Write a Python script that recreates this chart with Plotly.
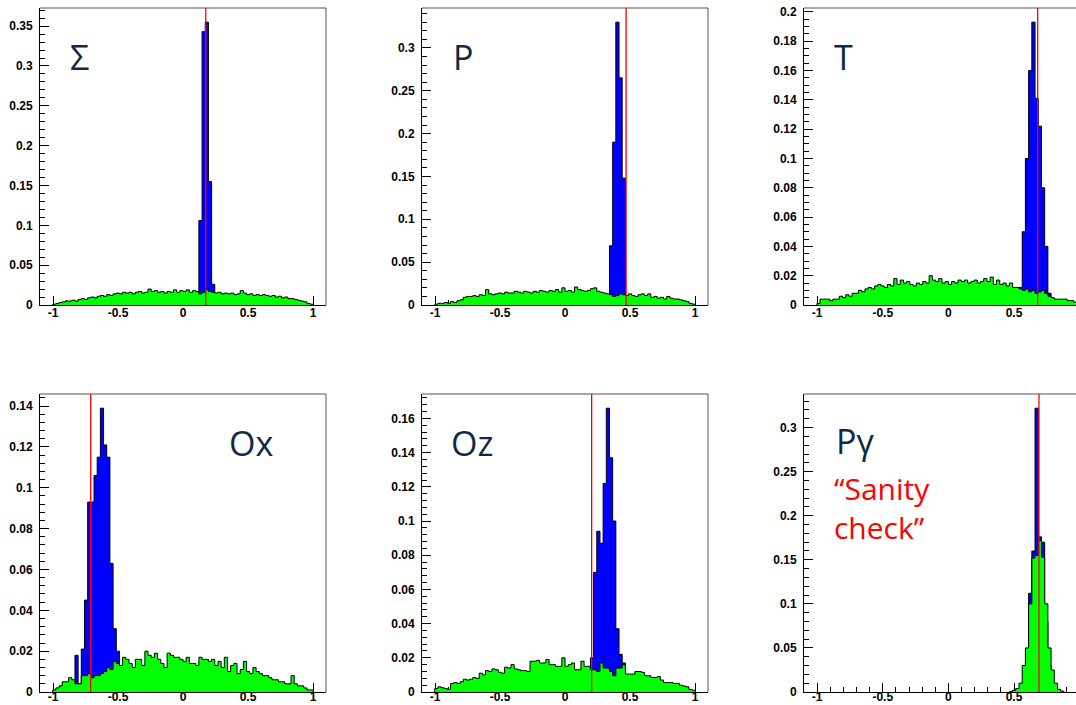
import plotly.graph_objects as go

# ---------------- binning (ROOT-style histograms, 90 bins on [-1.1, 1.1]) ----
NBINS, XLO, XHI = 90, -1.1, 1.1
BW = (XHI - XLO) / NBINS

# ---------------- data (bin contents) ----------------------------------------
# each histogram: first bin index + list of bin contents
sigma_green_start = 4
sigma_green = [0.001, 0.002, 0.003, 0.004, 0.005, 0.005,
               0.006, 0.005, 0.007, 0.008, 0.007, 0.009, 0.010, 0.009, 0.011, 0.012,
               0.011, 0.013, 0.012, 0.014, 0.015, 0.014, 0.016, 0.015, 0.016, 0.014,
               0.016, 0.017, 0.015, 0.016, 0.020, 0.017, 0.018, 0.016, 0.017, 0.015,
               0.017, 0.016, 0.019, 0.016, 0.018, 0.017, 0.019, 0.016, 0.018, 0.017,
               0.014, 0.016, 0.019, 0.017, 0.016, 0.015, 0.016, 0.014, 0.015, 0.014,
               0.015, 0.013, 0.014, 0.018, 0.015, 0.013, 0.014, 0.012, 0.013, 0.012,
               0.013, 0.012, 0.011, 0.012, 0.010, 0.011, 0.009, 0.010, 0.008, 0.008,
               0.007, 0.006, 0.005, 0.004, 0.002, 0.001]
sigma_blue_start = 50
sigma_blue = [0.106, 0.343, 0.355, 0.155, 0.026]
sigma_true = 0.175

p_green_start = 4
p_green = [0.001, 0.002, 0.002, 0.003, 0.002, 0.004,
           0.003, 0.005, 0.006, 0.009, 0.010, 0.010, 0.011, 0.010, 0.012, 0.011,
           0.018, 0.013, 0.012, 0.013, 0.014, 0.013, 0.015, 0.014, 0.014, 0.016,
           0.015, 0.014, 0.016, 0.015, 0.014, 0.016, 0.015, 0.017, 0.016, 0.015,
           0.017, 0.016, 0.018, 0.015, 0.020, 0.016, 0.017, 0.015, 0.021, 0.018,
           0.017, 0.016, 0.017, 0.019, 0.020, 0.016, 0.015, 0.014, 0.013, 0.012,
           0.010, 0.011, 0.013, 0.012, 0.011, 0.013, 0.011, 0.010, 0.012, 0.013,
           0.011, 0.013, 0.009, 0.010, 0.008, 0.009, 0.007, 0.010, 0.008, 0.007,
           0.007, 0.006, 0.005, 0.004, 0.002, 0.001]
p_blue_start = 59
p_blue = [0.069, 0.190, 0.330, 0.265, 0.148]
p_true = 0.47

t_green_start = 4
t_green = [0.001, 0.004, 0.004, 0.004, 0.003, 0.004,
           0.004, 0.006, 0.005, 0.007, 0.006, 0.008, 0.008, 0.010, 0.009, 0.011,
           0.012, 0.011, 0.013, 0.014, 0.013, 0.012, 0.014, 0.013, 0.018, 0.014,
           0.017, 0.015, 0.016, 0.014, 0.013, 0.015, 0.014, 0.016, 0.015, 0.020,
           0.017, 0.016, 0.018, 0.015, 0.016, 0.014, 0.016, 0.015, 0.017, 0.016,
           0.017, 0.015, 0.016, 0.017, 0.015, 0.016, 0.018, 0.016, 0.019, 0.014,
           0.017, 0.014, 0.015, 0.013, 0.015, 0.012, 0.012, 0.011, 0.010, 0.011,
           0.009, 0.010, 0.008, 0.009, 0.010, 0.008, 0.006, 0.005, 0.004, 0.004,
           0.004, 0.004, 0.003, 0.003, 0.002, 0.000]
t_blue_start = 67
t_blue = [0.012, 0.050, 0.100, 0.160, 0.193, 0.141, 0.122, 0.080, 0.040, 0.008]
t_true = 0.68

ox_green_start = 4
ox_green = [0.001, 0.002, 0.003, 0.005, 0.005, 0.007,
            0.006, 0.004, 0.004, 0.008, 0.008, 0.009, 0.007, 0.008, 0.008, 0.009,
            0.010, 0.012, 0.011, 0.015, 0.014, 0.013, 0.017, 0.016, 0.014, 0.012,
            0.016, 0.016, 0.013, 0.020, 0.018, 0.017, 0.019, 0.016, 0.014, 0.012,
            0.019, 0.018, 0.017, 0.017, 0.016, 0.015, 0.017, 0.014, 0.014, 0.013,
            0.017, 0.016, 0.016, 0.015, 0.016, 0.013, 0.015, 0.012, 0.017, 0.010,
            0.013, 0.014, 0.009, 0.011, 0.015, 0.010, 0.009, 0.012, 0.010, 0.009,
            0.008, 0.008, 0.007, 0.006, 0.006, 0.005, 0.005, 0.004, 0.004, 0.008,
            0.004, 0.003, 0.003, 0.002, 0.001, 0.001]
ox_blue_start = 11
ox_blue = [0.018, 0.004, 0.021, 0.045, 0.093, 0.093, 0.106, 0.115, 0.139,
           0.121, 0.115, 0.063, 0.031, 0.020]
ox_true = -0.71

oz_green_start = 4
oz_green = [0.002, 0.003, 0.0025, 0.002, 0.0015, 0.005,
            0.0055, 0.005, 0.006, 0.0075, 0.007, 0.0075, 0.0085, 0.008, 0.011, 0.010,
            0.0125, 0.012, 0.0135, 0.013, 0.0115, 0.011, 0.0145, 0.014, 0.016, 0.0135,
            0.013, 0.0125, 0.0125, 0.012, 0.018, 0.018, 0.0185, 0.017, 0.017, 0.019,
            0.016, 0.016, 0.015, 0.015, 0.020, 0.015, 0.016, 0.017, 0.013, 0.013,
            0.018, 0.015, 0.015, 0.013, 0.013, 0.012, 0.017, 0.014, 0.014, 0.012,
            0.0095, 0.014, 0.014, 0.016, 0.0105, 0.0105, 0.0105, 0.012, 0.012, 0.0115,
            0.0095, 0.0095, 0.0085, 0.0085, 0.009, 0.007, 0.0055, 0.0055, 0.0055, 0.005,
            0.005, 0.004, 0.0035, 0.003, 0.0015, 0.001]
oz_blue_start = 53
oz_blue = [0.020, 0.070, 0.094, 0.087, 0.122, 0.166, 0.137, 0.100, 0.037, 0.022, 0.017]
oz_true = 0.205

pg_green_start = 64
pg_green = [0.0005, 0.002, 0.004, 0.010, 0.030, 0.050, 0.100, 0.152, 0.155,
            0.172, 0.153, 0.100, 0.050, 0.025, 0.010, 0.003, 0.001]
pg_blue_start = 69
pg_blue = [0.035, 0.112, 0.160, 0.322, 0.176, 0.170, 0.080, 0.030]
pg_true = 0.69

labels = ["Σ", "P", "T", "Ox", "Oz", "Pγ"]
sanity_text = "“Sanity<br>check”"

x_tickvals = [-1, -0.5, 0, 0.5, 1]
x_ticktext = ["-1", "-0.5", "0", "0.5", "1"]

y_ticks = [
    ([0, 0.05, 0.1, 0.15, 0.2, 0.25, 0.3, 0.35], ["0", "0.05", "0.1", "0.15", "0.2", "0.25", "0.3", "0.35"]),
    ([0, 0.05, 0.1, 0.15, 0.2, 0.25, 0.3], ["0", "0.05", "0.1", "0.15", "0.2", "0.25", "0.3"]),
    ([0, 0.02, 0.04, 0.06, 0.08, 0.1, 0.12, 0.14, 0.16, 0.18, 0.2],
     ["0", "0.02", "0.04", "0.06", "0.08", "0.1", "0.12", "0.14", "0.16", "0.18", "0.2"]),
    ([0, 0.02, 0.04, 0.06, 0.08, 0.1, 0.12, 0.14], ["0", "0.02", "0.04", "0.06", "0.08", "0.1", "0.12", "0.14"]),
    ([0, 0.02, 0.04, 0.06, 0.08, 0.1, 0.12, 0.14, 0.16],
     ["0", "0.02", "0.04", "0.06", "0.08", "0.1", "0.12", "0.14", "0.16"]),
    ([0, 0.05, 0.1, 0.15, 0.2, 0.25, 0.3], ["0", "0.05", "0.1", "0.15", "0.2", "0.25", "0.3"]),
]
y_minor = [0.01, 0.01, 0.005, 0.004, 0.004, 0.01]

hists = [
    (sigma_green_start, sigma_green, sigma_blue_start, sigma_blue, sigma_true),
    (p_green_start, p_green, p_blue_start, p_blue, p_true),
    (t_green_start, t_green, t_blue_start, t_blue, t_true),
    (ox_green_start, ox_green, ox_blue_start, ox_blue, ox_true),
    (oz_green_start, oz_green, oz_blue_start, oz_blue, oz_true),
    (pg_green_start, pg_green, pg_blue_start, pg_blue, pg_true),
]

# ---------------- layout geometry (pixels) ----------------------------------
W, H = 1076, 705
px_x = [(40, 326), (422, 708), (804, 1076), (40, 326), (422, 708), (804, 1076)]
px_y = [(8, 305), (8, 305), (8, 305), (394, 692), (394, 692), (394, 692)]
x_ranges = [[-1.1, 1.1], [-1.1, 1.1], [-1.1, 0.972], [-1.1, 1.1], [-1.1, 1.1], [-1.1, 0.972]]
x_label_standoff = [-3, -3, -3, -6, -6, -6]
clipped_right = [False, False, True, False, False, True]
label_pos = [(68, 57), (451, 57), (832, 57), (227, 443), (449, 443), (834, 441)]
sanity_pos = (832, 508)

GREEN = "#00ff00"
BLUE = "#0000ff"
NAVY = "#0f2a44"


def step_xy(start, vals):
    xs = [XLO + start * BW]
    ys = [0]
    for i, v in enumerate(vals):
        xs.append(XLO + (start + i) * BW)
        ys.append(v)
    xe = XLO + (start + len(vals)) * BW
    xs += [xe, xe]
    ys += [vals[-1], 0]
    return xs, ys


fig = go.Figure()
layout = dict(
    width=W, height=H, autosize=False,
    margin=dict(l=0, r=0, t=0, b=0, pad=0, autoexpand=False),
    paper_bgcolor="white", plot_bgcolor="white", showlegend=False,
)
shapes = []
annotations = []
tickfont = dict(family="Liberation Sans, Arial, sans-serif", size=12, color="black", weight="bold")
label_font = dict(family="Open Sans, Noto Sans, sans-serif", size=34, color=NAVY)

for i, (gs, gv, bs, bv, truth) in enumerate(hists):
    n = i + 1
    xa = "x" if n == 1 else f"x{n}"
    ya = "y" if n == 1 else f"y{n}"
    # blue (drawn first), then green on top
    bx, by = step_xy(bs, bv)
    fig.add_trace(go.Scatter(x=bx, y=by, mode="lines", line=dict(shape="hv", color="black", width=1),
                             fill="tozeroy", fillcolor=BLUE, xaxis=xa, yaxis=ya, hoverinfo="skip"))
    gx, gy = step_xy(gs, gv)
    fig.add_trace(go.Scatter(x=gx, y=gy, mode="lines", line=dict(shape="hv", color="black", width=1),
                             fill="tozeroy", fillcolor=GREEN, xaxis=xa, yaxis=ya, hoverinfo="skip"))

    x0, x1 = px_x[i]
    y0, y1 = px_y[i]
    ymax = 1.05 * max(max(bv), max(gv))
    tv, tt = y_ticks[i]
    layout["xaxis" if n == 1 else f"xaxis{n}"] = dict(
        domain=[x0 / W, x1 / W], range=x_ranges[i], anchor=ya, automargin=False,
        showgrid=False, zeroline=False, showline=True, linecolor="black", linewidth=1,
        ticks="inside", ticklen=9, tickcolor="black", tickwidth=1,
        tickvals=x_tickvals, ticktext=x_ticktext, tickfont=tickfont,
        ticklabelstandoff=x_label_standoff[i],
        minor=dict(dtick=0.1, tick0=0, ticks="inside", ticklen=5, tickcolor="black", showgrid=False),
        layer="below traces", fixedrange=True,
    )
    layout["yaxis" if n == 1 else f"yaxis{n}"] = dict(
        domain=[1 - y1 / H, 1 - y0 / H], range=[0, ymax], anchor=xa, automargin=False,
        showgrid=False, zeroline=False, showline=True, linecolor="black", linewidth=1,
        ticks="inside", ticklen=9, tickcolor="black", tickwidth=1,
        tickvals=tv, ticktext=tt, tickfont=tickfont, ticklabelstandoff=4,
        minor=dict(dtick=y_minor[i], tick0=0, ticks="inside", ticklen=5, tickcolor="black", showgrid=False),
        layer="below traces", fixedrange=True,
    )
    # frame (top and right)
    shapes.append(dict(type="line", xref=f"{xa} domain", yref=f"{ya} domain", x0=0, x1=1, y0=1, y1=1,
                       line=dict(color="#555555", width=1)))
    if not clipped_right[i]:
        shapes.append(dict(type="line", xref=f"{xa} domain", yref=f"{ya} domain", x0=1, x1=1, y0=0, y1=1,
                           line=dict(color="#555555", width=1)))
    # true value marker
    shapes.append(dict(type="line", xref=xa, yref=f"{ya} domain", x0=truth, x1=truth, y0=0, y1=1,
                       line=dict(color="#ff0000", width=1.3), layer="above"))
    lx, ly = label_pos[i]
    annotations.append(dict(text=labels[i], xref="paper", yref="paper", x=lx / W, y=1 - ly / H,
                            xanchor="left", yanchor="middle", showarrow=False, font=label_font))

sx, sy = sanity_pos
annotations.append(dict(text=sanity_text, xref="paper", yref="paper", x=sx / W, y=1 - sy / H,
                        xanchor="left", yanchor="middle", align="left", showarrow=False,
                        font=dict(family="Open Sans, Noto Sans, sans-serif", size=30, color="#ff0000")))

layout["shapes"] = shapes
layout["annotations"] = annotations
fig.update_layout(**layout)
fig.write_html("out.html")
